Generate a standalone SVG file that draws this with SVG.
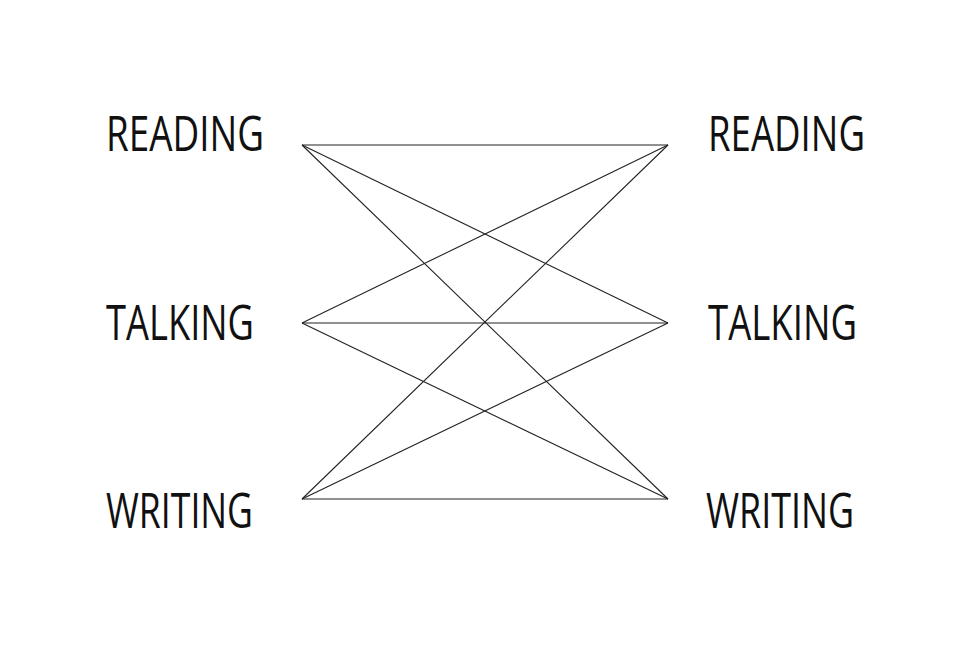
<svg xmlns="http://www.w3.org/2000/svg" width="978" height="666" viewBox="0 0 978 666">
<style>
.lbl{font-family:"Open Sans","Liberation Sans",sans-serif;font-size:50px;fill:#111;}
.edge{stroke:#222;stroke-width:1.1;fill:none;}
</style>
<rect width="978" height="666" fill="#fff"/>
<g id="connectors">
<line class="edge" x1="302" y1="145" x2="668" y2="145"/>
<line class="edge" x1="302" y1="145" x2="668" y2="323"/>
<line class="edge" x1="302" y1="145" x2="668" y2="499"/>
<line class="edge" x1="302" y1="323" x2="668" y2="145"/>
<line class="edge" x1="302" y1="323" x2="668" y2="323"/>
<line class="edge" x1="302" y1="323" x2="668" y2="499"/>
<line class="edge" x1="302" y1="499" x2="668" y2="145"/>
<line class="edge" x1="302" y1="499" x2="668" y2="323"/>
<line class="edge" x1="302" y1="499" x2="668" y2="499"/>
</g>
<g id="left-reading"><text class="lbl" x="106" y="151" textLength="158" lengthAdjust="spacingAndGlyphs">READING</text></g>
<g id="left-talking"><text class="lbl" x="106" y="340" textLength="148" lengthAdjust="spacingAndGlyphs">TALKING</text></g>
<g id="left-writing"><text class="lbl" x="106" y="528" textLength="147" lengthAdjust="spacingAndGlyphs">WRITING</text></g>
<g id="right-reading"><text class="lbl" x="708" y="151" textLength="157" lengthAdjust="spacingAndGlyphs">READING</text></g>
<g id="right-talking"><text class="lbl" x="708" y="340" textLength="149" lengthAdjust="spacingAndGlyphs">TALKING</text></g>
<g id="right-writing"><text class="lbl" x="706" y="528" textLength="148" lengthAdjust="spacingAndGlyphs">WRITING</text></g>
</svg>
